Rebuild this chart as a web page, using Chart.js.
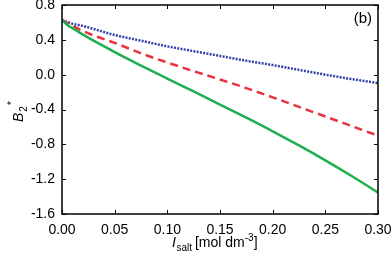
<!DOCTYPE html>
<html>
<head>
<meta charset="utf-8">
<script src="https://cdn.jsdelivr.net/npm/chart.js@4/dist/chart.umd.min.js"></script>
<style>
  html, body { margin: 0; padding: 0; background: #fff; }
  #wrap { width: 392px; height: 262px; }
</style>
</head>
<body>
<div id="wrap"><canvas id="c" width="392" height="262"></canvas></div>
<script>
// ionic strength of salt [mol dm^-3]
const saltConc = [0, 0.005, 0.01, 0.02, 0.03, 0.05, 0.075, 0.1, 0.125, 0.15, 0.175, 0.2, 0.225, 0.25, 0.275, 0.3];
// reduced second virial coefficient B2*
const b2Blue  = [0.63, 0.605, 0.585, 0.56, 0.525, 0.455, 0.39, 0.325, 0.27, 0.215, 0.16, 0.11, 0.055, 0.0, -0.05, -0.096];
const b2Red   = [0.63, 0.59, 0.56, 0.50, 0.45, 0.365, 0.245, 0.14, 0.04, -0.055, -0.155, -0.26, -0.37, -0.48, -0.59, -0.70];
const b2Green = [0.63, 0.57, 0.535, 0.46, 0.39, 0.26, 0.105, -0.045, -0.193, -0.343, -0.494, -0.65, -0.813, -0.984, -1.164, -1.354];

const xTicks = [0, 0.05, 0.1, 0.15, 0.2, 0.25, 0.3];
const yTicks = [-1.6, -1.2, -0.8, -0.4, 0.0, 0.4, 0.8];

const FONT = '"Liberation Sans", Arial, sans-serif';

function pts(ys) {
  return saltConc.map((x, i) => ({ x, y: ys[i] }));
}

// frame, inward ticks on all four sides, axis titles and panel tag
const framePlugin = {
  id: 'frame',
  afterDraw(chart) {
    const { ctx, chartArea: a, scales } = chart;
    const tl = 4;
    ctx.save();
    ctx.strokeStyle = '#000';
    ctx.lineWidth = 1;
    ctx.beginPath();
    xTicks.forEach(v => {
      const px = Math.round(scales.x.getPixelForValue(v)) + 0.5;
      ctx.moveTo(px, a.bottom); ctx.lineTo(px, a.bottom - tl);
      ctx.moveTo(px, a.top); ctx.lineTo(px, a.top + tl);
    });
    yTicks.forEach(v => {
      const py = Math.round(scales.y.getPixelForValue(v)) + 0.5;
      ctx.moveTo(a.left, py); ctx.lineTo(a.left + tl, py);
      ctx.moveTo(a.right, py); ctx.lineTo(a.right - tl, py);
    });
    ctx.stroke();
    ctx.lineWidth = 1.5;
    ctx.strokeRect(a.left, a.top, a.right - a.left, a.bottom - a.top);

    ctx.fillStyle = '#000';
    ctx.textBaseline = 'alphabetic';

    // (b)
    ctx.font = '15px ' + FONT;
    ctx.textAlign = 'right';
    ctx.fillText('(b)', a.right - 6, 23);

    // x title: I_salt [mol dm^-3]
    ctx.textAlign = 'left';
    let x = 172, y = 247;
    ctx.font = 'italic 14px ' + FONT;
    ctx.fillText('I', x, y); x += ctx.measureText('I').width + 0.5;
    ctx.font = '10px ' + FONT;
    ctx.fillText('salt', x, y + 4); x += ctx.measureText('salt').width + 3;
    ctx.font = '14px ' + FONT;
    ctx.fillText('[mol dm', x, y); x += ctx.measureText('[mol dm').width;
    ctx.font = '10px ' + FONT;
    ctx.fillText('-3', x, y - 6); x += ctx.measureText('-3').width;
    ctx.font = '14px ' + FONT;
    ctx.fillText(']', x, y);

    // y title: B_2^*
    ctx.translate(23, 122);
    ctx.rotate(-Math.PI / 2);
    ctx.font = 'italic 14px ' + FONT;
    ctx.fillText('B', 0, 0);
    let w = ctx.measureText('B').width + 1;
    ctx.font = '10px ' + FONT;
    ctx.fillText('2', w, 4);
    w += ctx.measureText('2').width + 1;
    ctx.fillText('*', w, -8);
    ctx.restore();
  }
};

new Chart(document.getElementById('c'), {
  type: 'scatter',
  data: {
    datasets: [
      { data: pts(b2Green), borderColor: '#1db04c', borderWidth: 2.5, showLine: true, pointRadius: 0 },
      { data: pts(b2Red), borderColor: '#e8323c', borderWidth: 2.5, borderDash: [8, 5], showLine: true, pointRadius: 0 },
      { data: pts(b2Blue), borderColor: '#3242a8', borderWidth: 2.5, borderDash: [2, 1.3], showLine: true, pointRadius: 0 },
    ],
  },
  options: {
    responsive: false,
    animation: false,
    devicePixelRatio: 1,
    layout: { padding: { top: 5, right: 14, left: 0, bottom: 0 } },
    plugins: { legend: { display: false }, tooltip: { enabled: false } },
    elements: { line: { tension: 0.4, cubicInterpolationMode: 'monotone' } },
    scales: {
      x: {
        type: 'linear', min: 0, max: 0.3,
        afterFit(s) { s.height = 48; s.paddingLeft = 0; s.paddingRight = 0; },
        afterBuildTicks(s) { s.ticks = xTicks.map(v => ({ value: v })); },
        grid: { display: false, drawTicks: false },
        border: { display: false },
        ticks: { padding: 8, color: '#000', font: { family: FONT, size: 14 }, maxRotation: 0,
                 callback: v => v.toFixed(2) },
      },
      y: {
        type: 'linear', min: -1.6, max: 0.8,
        afterFit(s) { s.width = 62; s.paddingTop = 0; s.paddingBottom = 0; },
        afterBuildTicks(s) { s.ticks = yTicks.map(v => ({ value: v })); },
        grid: { display: false, drawTicks: false },
        border: { display: false },
        ticks: { padding: 7, color: '#000', font: { family: FONT, size: 14 },
                 callback: v => (Math.abs(v) < 1e-9 ? 0 : v).toFixed(1) },
      },
    },
  },
  plugins: [framePlugin],
});
</script>
</body>
</html>
